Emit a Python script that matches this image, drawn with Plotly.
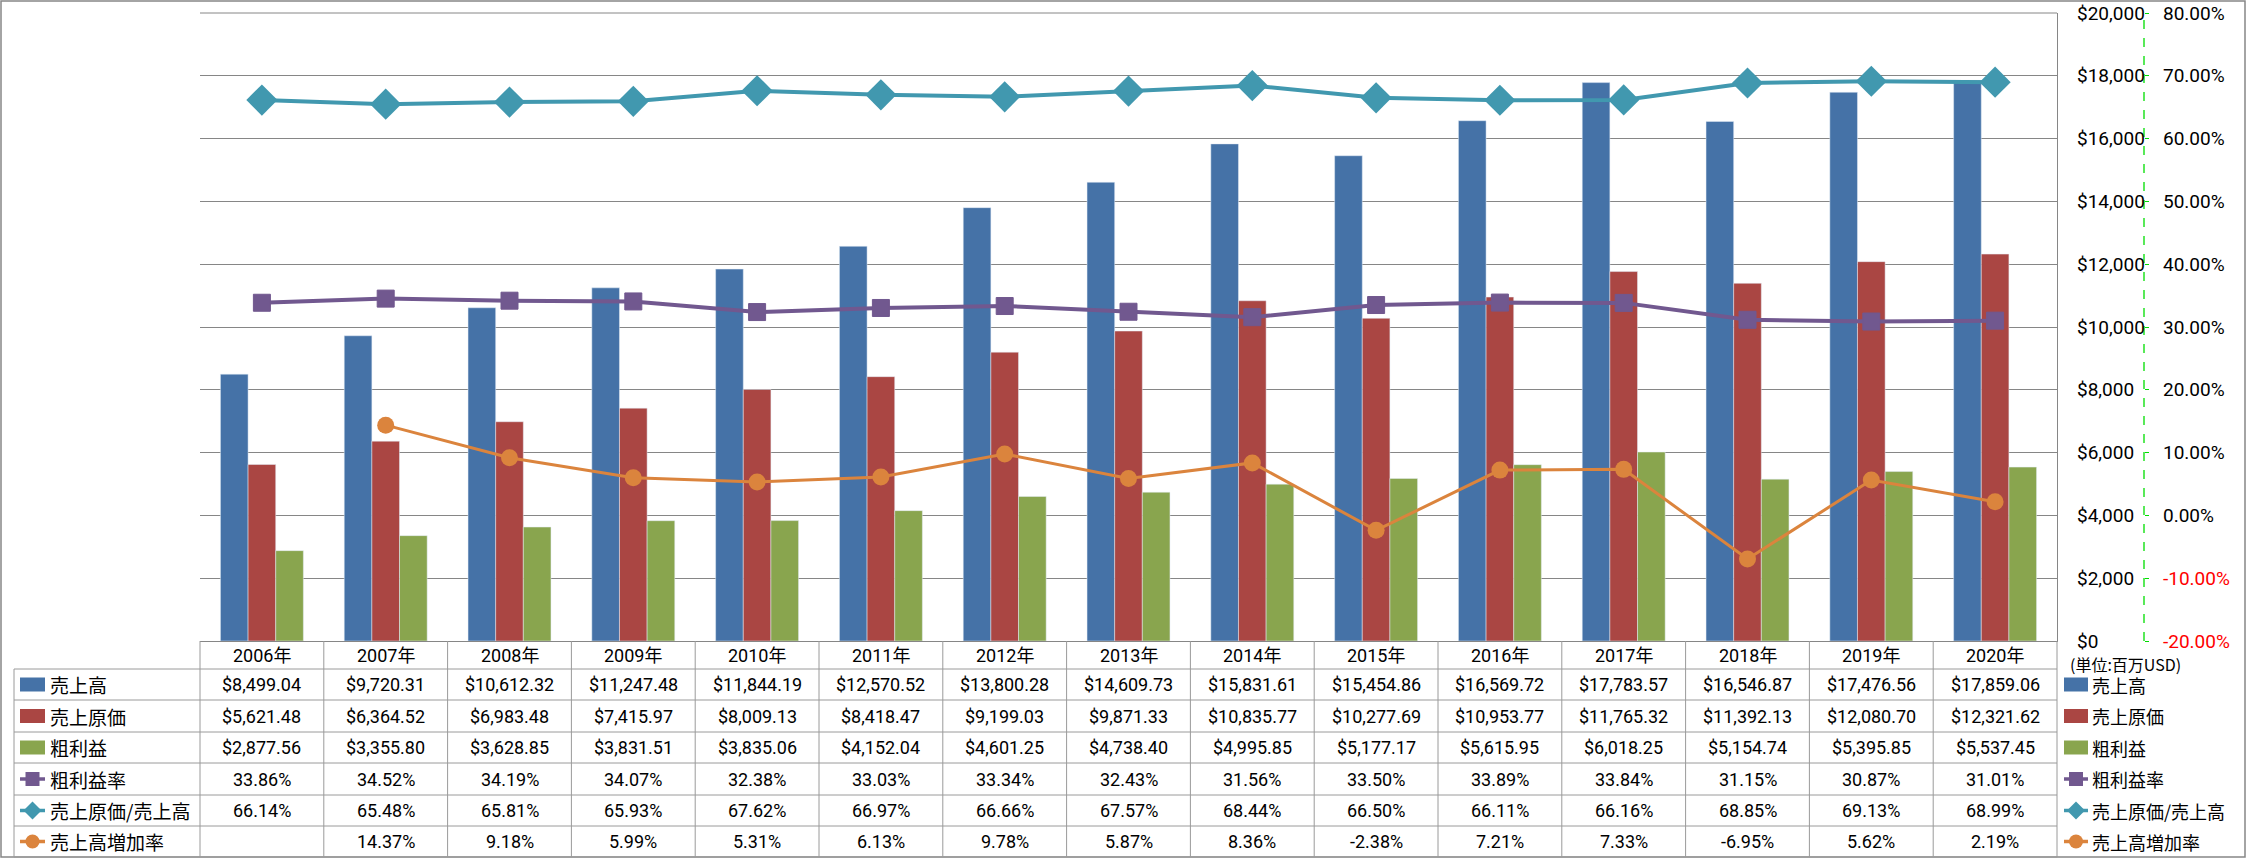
import plotly.graph_objects as go

# ---------------- data ----------------
years = ["2006年", "2007年", "2008年", "2009年", "2010年", "2011年", "2012年", "2013年",
         "2014年", "2015年", "2016年", "2017年", "2018年", "2019年", "2020年"]
sales = [8499.04, 9720.31, 10612.32, 11247.48, 11844.19, 12570.52, 13800.28, 14609.73,
         15831.61, 15454.86, 16569.72, 17783.57, 16546.87, 17476.56, 17859.06]
cogs = [5621.48, 6364.52, 6983.48, 7415.97, 8009.13, 8418.47, 9199.03, 9871.33,
        10835.77, 10277.69, 10953.77, 11765.32, 11392.13, 12080.70, 12321.62]
gross = [2877.56, 3355.80, 3628.85, 3831.51, 3835.06, 4152.04, 4601.25, 4738.40,
         4995.85, 5177.17, 5615.95, 6018.25, 5154.74, 5395.85, 5537.45]
gm_rate = [33.86, 34.52, 34.19, 34.07, 32.38, 33.03, 33.34, 32.43,
           31.56, 33.50, 33.89, 33.84, 31.15, 30.87, 31.01]
cogs_ratio = [66.14, 65.48, 65.81, 65.93, 67.62, 66.97, 66.66, 67.57,
              68.44, 66.50, 66.11, 66.16, 68.85, 69.13, 68.99]
growth = [None, 14.37, 9.18, 5.99, 5.31, 6.13, 9.78, 5.87,
          8.36, -2.38, 7.21, 7.33, -6.95, 5.62, 2.19]

series_names = ["売上高", "売上原価", "粗利益", "粗利益率", "売上原価/売上高", "売上高増加率"]
usd_ticks = list(range(0, 20001, 2000))
pct_ticks = [-20, -10, 0, 10, 20, 30, 40, 50, 60, 70, 80]
unit_label = "(単位:百万USD)"

# ---------------- style ----------------
C_BLUE, C_RED, C_GREEN = "#4572A7", "#AA4643", "#89A54E"
C_PURPLE, C_TEAL, C_ORANGE = "#71588F", "#4198AF", "#DB843D"
GRID = "#868686"
TBL = "#9A9A9A"
FONT = "Roboto, Noto Sans CJK JP, sans-serif"
JFONT = "Noto Sans CJK JP, sans-serif"

W, H = 2246, 858
PX0, PX1, PY0, PY1 = 200, 2057, 13, 641
PAPER_R = 2226
PW = PAPER_R - PX0          # paper width in px
PH = PY1 - PY0


def fx(X):
    return (X - PX0) / PW


def fy(Y):
    return (PY1 - Y) / PH


n = len(years)
xs = list(range(n))
pct = lambda arr: [None if v is None else v / 100 for v in arr]

fig = go.Figure()
fig.add_trace(go.Bar(x=xs, y=sales, name=series_names[0], marker_color=C_BLUE))
fig.add_trace(go.Bar(x=xs, y=cogs, name=series_names[1], marker_color=C_RED))
fig.add_trace(go.Bar(x=xs, y=gross, name=series_names[2], marker_color=C_GREEN))
fig.add_trace(go.Scatter(x=xs, y=pct(gm_rate), yaxis="y2", mode="lines+markers",
                         line=dict(color=C_PURPLE, width=4),
                         marker=dict(symbol="square", size=17, color=C_PURPLE,
                                     line=dict(color=C_PURPLE, width=1))))
fig.add_trace(go.Scatter(x=xs, y=pct(cogs_ratio), yaxis="y2", mode="lines+markers",
                         line=dict(color=C_TEAL, width=4),
                         marker=dict(symbol="diamond", size=24, color=C_TEAL)))
fig.add_trace(go.Scatter(x=xs, y=pct(growth), yaxis="y2", mode="lines+markers",
                         line=dict(color=C_ORANGE, width=3),
                         marker=dict(symbol="circle", size=17, color=C_ORANGE)))

y2pos = fx(2144)

fig.update_layout(
    width=W, height=H,
    margin=dict(l=PX0, r=W - PAPER_R, t=PY0, b=H - PY1, autoexpand=False),
    paper_bgcolor="white", plot_bgcolor="white",
    showlegend=False,
    barmode="group", bargap=0.33, bargroupgap=0,
    font=dict(family=FONT, size=18, color="black"),
    xaxis=dict(range=[-0.5, n - 0.5], domain=[0, fx(PX1)], showticklabels=False, ticks="",
               showgrid=False, zeroline=False, showline=True, linecolor=GRID, linewidth=1),
    yaxis=dict(range=[0, 20000], side="right", tickvals=usd_ticks, showticklabels=False,
               showgrid=True, gridcolor=GRID, gridwidth=1, zeroline=False,
               showline=True, linecolor=GRID, linewidth=1, ticks=""),
    yaxis2=dict(range=[-0.2, 0.8], overlaying="y", side="right", anchor="free",
                position=y2pos, tickvals=[v / 100 for v in pct_ticks], showticklabels=False,
                showgrid=False, zeroline=False, showline=False,
                ticks="outside", ticklen=4, tickcolor="#00DD00"),
)

shapes = []
ann = []

# axis tick labels (left aligned, like the original)
for v in usd_ticks:
    ann.append(dict(x=fx(2075), y=v, xref="paper", yref="y", text=f"${v:,}", showarrow=False,
                    xanchor="left", yanchor="middle", font=dict(size=19, family=FONT)))
for v in pct_ticks:
    ann.append(dict(x=fx(2161), y=v / 100, xref="paper", yref="y2", text=f"{v:.2f}%",
                    showarrow=False, xanchor="left", yanchor="middle",
                    font=dict(size=19, family=FONT, color="#FF0000" if v < 0 else "black")))

# top border of plot area ($20,000 grid line)
shapes.append(dict(type="line", xref="paper", yref="paper", x0=0, x1=fx(PX1), y0=1, y1=1,
                   line=dict(color=GRID, width=1)))

# green dashed secondary axis line
shapes.append(dict(type="line", xref="paper", yref="paper", x0=y2pos, x1=y2pos, y0=0, y1=1,
                   line=dict(color="#00DD00", width=1.3, dash="dash")))

# outer border
shapes.append(dict(type="rect", xref="paper", yref="paper", x0=fx(1), x1=fx(W - 1),
                   y0=fy(H - 1), y1=fy(1), line=dict(color=GRID, width=1.5)))

# table geometry
row_lines = [641, 669, 700, 732, 763, 795, 826, 857]
TL = 14
colw = (PX1 - PX0) / n
for i in range(n + 1):
    X = PX0 + colw * i
    shapes.append(dict(type="line", xref="paper", yref="paper", x0=fx(X), x1=fx(X),
                       y0=fy(641), y1=fy(857), line=dict(color=TBL, width=1)))
shapes.append(dict(type="line", xref="paper", yref="paper", x0=fx(TL), x1=fx(TL),
                   y0=fy(669), y1=fy(857), line=dict(color=TBL, width=1)))
for Y in row_lines[1:]:
    shapes.append(dict(type="line", xref="paper", yref="paper", x0=fx(TL), x1=fx(PX1),
                       y0=fy(Y), y1=fy(Y), line=dict(color=TBL, width=1)))

# header years
for i, yr in enumerate(years):
    ann.append(dict(x=i, y=fy((row_lines[0] + row_lines[1]) / 2), xref="x", yref="paper",
                    yanchor="middle", xanchor="center",
                    text=yr, showarrow=False, font=dict(size=18, family=FONT)))

rows = [
    [f"${v:,.2f}" for v in sales],
    [f"${v:,.2f}" for v in cogs],
    [f"${v:,.2f}" for v in gross],
    [f"{v:.2f}%" for v in gm_rate],
    [f"{v:.2f}%" for v in cogs_ratio],
    ["" if v is None else f"{v:.2f}%" for v in growth],
]
for r, vals in enumerate(rows):
    yc = (row_lines[r + 1] + row_lines[r + 2]) / 2
    for i, t in enumerate(vals):
        if t:
            ann.append(dict(x=i, y=fy(yc), xref="x", yref="paper", text=t, showarrow=False,
                            yanchor="middle", xanchor="center",
                            font=dict(size=18, family=FONT)))

key_colors = [C_BLUE, C_RED, C_GREEN, C_PURPLE, C_TEAL, C_ORANGE]


def add_key(r, X0, X1, yc):
    c = key_colors[r]
    if r < 3:
        shapes.append(dict(type="rect", xref="paper", yref="paper", x0=fx(X0), x1=fx(X1),
                           y0=fy(yc + 7), y1=fy(yc - 7), line=dict(width=0), fillcolor=c))
    else:
        shapes.append(dict(type="line", xref="paper", yref="paper", x0=fx(X0), x1=fx(X1),
                           y0=fy(yc), y1=fy(yc), line=dict(color=c, width=3.5)))
        xm = (X0 + X1) / 2
        if r == 3:
            shapes.append(dict(type="rect", xref="paper", yref="paper", x0=fx(xm - 7), x1=fx(xm + 7),
                               y0=fy(yc + 7), y1=fy(yc - 7), line=dict(width=0), fillcolor=c))
        elif r == 4:
            path = (f"M {fx(xm - 9)} {fy(yc)} L {fx(xm)} {fy(yc - 9)} "
                    f"L {fx(xm + 9)} {fy(yc)} L {fx(xm)} {fy(yc + 9)} Z")
            shapes.append(dict(type="path", xref="paper", yref="paper", path=path,
                               line=dict(width=0), fillcolor=c))
        else:
            shapes.append(dict(type="circle", xref="paper", yref="paper", x0=fx(xm - 7), x1=fx(xm + 7),
                               y0=fy(yc + 7), y1=fy(yc - 7), line=dict(width=0), fillcolor=c))


for r, name in enumerate(series_names):
    yc = (row_lines[r + 1] + row_lines[r + 2]) / 2
    # table row header
    add_key(r, 20, 45, yc)
    ann.append(dict(x=fx(48), y=fy(yc), xref="paper", yref="paper", text=name, showarrow=False,
                    xanchor="left", yanchor="middle", font=dict(size=19, family=JFONT)))
    # right legend
    add_key(r, 2064, 2088, yc)
    ann.append(dict(x=fx(2090), y=fy(yc), xref="paper", yref="paper", text=name, showarrow=False,
                    xanchor="left", yanchor="middle", font=dict(size=18, family=JFONT)))

ann.append(dict(x=fx(2068), y=fy(664), xref="paper", yref="paper", text=unit_label,
                showarrow=False, xanchor="left", yanchor="middle",
                font=dict(size=16, family=JFONT)))

fig.update_layout(shapes=shapes, annotations=ann)
fig.write_html("out.html",
               config={"displayModeBar": False, "staticPlot": True},
               post_script="document.body.style.margin='0';document.body.style.overflow='hidden';")
